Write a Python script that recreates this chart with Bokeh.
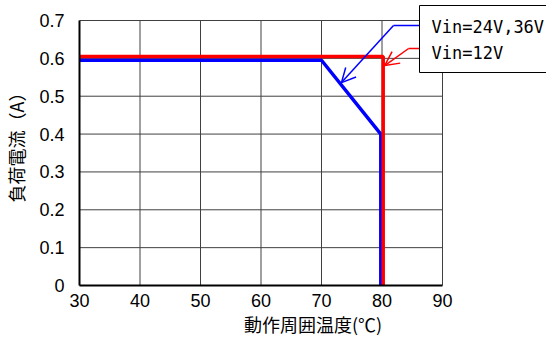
import numpy as np
from bokeh.plotting import figure
from bokeh.models import (FixedTicker, Range1d, Label, Arrow, OpenHead)
from bokeh.embed import file_html
from bokeh.resources import INLINE

# ---- data ----
x_ticks = [30, 40, 50, 60, 70, 80, 90]
y_ticks = [0, 0.1, 0.2, 0.3, 0.4, 0.5, 0.6, 0.7]
y_tick_labels = ["0", "0.1", "0.2", "0.3", "0.4", "0.5", "0.6", "0.7"]

blue_x = [30, 70, 79.8, 79.8]          # Vin=24V,36V
blue_y = [0.595, 0.595, 0.40, 0.0]
red_x = [30, 80.2, 80.2]               # Vin=12V
red_y = [0.605, 0.605, 0.0]

legend_texts = ["Vin=24V,36V", "Vin=12V"]

BLUE = "#0000FF"
RED = "#FF0000"
JP = "Noto Sans CJK JP"
NUM = "Liberation Sans"

W, H = 545, 341
LEFT, BOTTOM = 78, 56
X0, X1 = x_ticks[0], x_ticks[-1]
Y0, Y1 = y_ticks[0], y_ticks[-1]
PX_PER_X = 363 / (X1 - X0)
PX_PER_Y = 265 / (Y1 - Y0)
FRAME_W = W - LEFT
FRAME_H = H - BOTTOM

p = figure(width=W, height=H,
           frame_width=FRAME_W, frame_height=FRAME_H,
           min_border_left=LEFT, min_border_right=0,
           min_border_top=0, min_border_bottom=BOTTOM,
           x_range=Range1d(X0, X0 + FRAME_W / PX_PER_X),
           y_range=Range1d(Y0, Y0 + FRAME_H / PX_PER_Y),
           output_backend="svg", toolbar_location=None)

p.background_fill_color = "white"
p.border_fill_color = "white"
p.outline_line_color = None
p.xgrid.visible = False
p.ygrid.visible = False

p.xaxis.ticker = FixedTicker(ticks=x_ticks)
p.yaxis.ticker = FixedTicker(ticks=y_ticks)
p.yaxis.major_label_overrides = {t: l for t, l in zip(y_ticks, y_tick_labels)}
p.xaxis.bounds = (X0, X1)
p.yaxis.bounds = (Y0, Y1)

for ax in (p.xaxis[0], p.yaxis[0]):
    ax.axis_line_color = "black"
    ax.axis_line_width = 2
    ax.major_tick_in = 0
    ax.major_tick_out = 0
    ax.minor_tick_in = 0
    ax.minor_tick_out = 0
    ax.major_label_text_font = NUM
    ax.major_label_text_font_size = "18px"
    ax.major_label_text_color = "black"
    ax.axis_label_text_font = JP
    ax.axis_label_text_font_size = "18px"
    ax.axis_label_text_font_style = "normal"
    ax.axis_label_text_color = "black"

p.xaxis.axis_label = "動作周囲温度(℃)"
p.yaxis.axis_label = "負荷電流（A）"
p.xaxis.major_label_standoff = 8
p.xaxis.axis_label_standoff = 1
p.yaxis.major_label_standoff = 15
p.yaxis.axis_label_standoff = 7

# grid lines (within 30-90 / 0-0.7 only)
gx = [[t, t] for t in x_ticks] + [[X0, X1] for _ in y_ticks]
gy = [[Y0, Y1] for _ in x_ticks] + [[t, t] for t in y_ticks]
p.multi_line(gx, gy, line_color="#404040", line_width=1)

p.line(blue_x, blue_y, line_color=BLUE, line_width=3.5)
p.line(red_x, red_y, line_color=RED, line_width=3.5)

# ---- callout legend ----
box = Label(x=86.2, y=Y1 + 15 / PX_PER_Y, anchor="top_left",
            text="\n".join(legend_texts),
            text_font="DejaVu Sans Mono", text_font_size="17px",
            text_color="black", text_line_height=1.3,
            border_line_color="black", border_line_width=1,
            background_fill_color="white",
            padding=(12, 40, 11, 10))
p.add_layout(box)

# blue callout
b_start, b_bend, b_tip = (86.9, 0.687), (81.9, 0.687), (73.3, 0.536)
p.line([b_start[0], b_bend[0]], [b_start[1], b_bend[1]], line_color=BLUE, line_width=1.5)
p.add_layout(Arrow(x_start=b_bend[0], y_start=b_bend[1], x_end=b_tip[0], y_end=b_tip[1],
                   line_color=BLUE, line_width=1.5,
                   end=OpenHead(size=14, line_color=BLUE, line_width=1.5)))

# red callout
r_start, r_bend, r_tip = (86.6, 0.626), (84.4, 0.626), (80.45, 0.581)
p.line([r_start[0], r_bend[0]], [r_start[1], r_bend[1]], line_color=RED, line_width=1.5)
p.add_layout(Arrow(x_start=r_bend[0], y_start=r_bend[1], x_end=r_tip[0], y_end=r_tip[1],
                   line_color=RED, line_width=1.5,
                   end=OpenHead(size=14, line_color=RED, line_width=1.5)))

open("out.html", "w").write(file_html(p, INLINE))
